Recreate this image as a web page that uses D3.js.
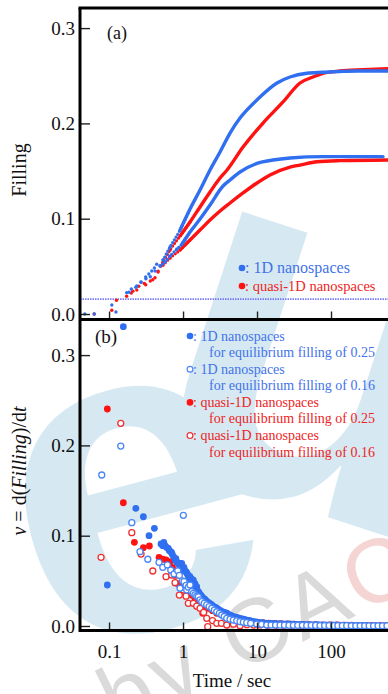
<!DOCTYPE html>
<html><head><meta charset="utf-8">
<script src="https://cdn.jsdelivr.net/npm/d3@7"></script>
<style>
html,body{margin:0;padding:0;background:#fff;}
svg{display:block;}
svg text.sf{font-family:"Liberation Serif","Times New Roman",Tinos,"DejaVu Serif",serif;}
svg text.ss{font-family:"Liberation Sans",Arial,"DejaVu Sans",sans-serif;}
</style></head><body>
<svg id="chart" width="388" height="694"></svg>
<script>
// ---------- DATA ----------
const xTickValues = [0.1, 1, 10, 100];
const xTickLabels = ["0.1", "1", "10", "100"];
const yTickValues = [0, 0.1, 0.2, 0.3];
const yTickLabels = ["0.0", "0.1", "0.2", "0.3"];
const thresholdFilling = 0.0157;

// panel (a): [time (s), filling]
const fill1D_025 = [[0.047,0],[0.109,0.0094],[0.173,0.0224],[0.20,0.0262],[0.237,0.0294],[0.27,0.0335],[0.313,0.0388],[0.345,0.0420],[0.378,0.0451],[0.41,0.0482],[0.441,0.0522],[0.537,0.0567],[0.667,0.0703],[0.911,0.0881],[1.243,0.1102],[1.697,0.1301],[2.317,0.1511],[3.163,0.170],[4.316,0.1899],[5.893,0.2057],[7.33,0.2141],[10.98,0.2277],[14.99,0.2371],[18.63,0.2424],[27.9,0.2487],[47.4,0.2526],[78,0.2536],[132.4,0.2545],[224.5,0.255],[589,0.255]];
const fill1D_016 = [[0.063,0],[0.124,0.0021],[0.186,0.0228],[0.23,0.0280],[0.271,0.0333],[0.315,0.0370],[0.361,0.0391],[0.42,0.0450],[0.489,0.0504],[0.571,0.0546],[0.667,0.0609],[0.830,0.0682],[0.969,0.0735],[1.243,0.086],[1.697,0.0997],[2.317,0.1144],[3.473,0.1343],[4.316,0.1406],[5.893,0.149],[10,0.1581],[16.45,0.1616],[27.9,0.1637],[78,0.1651],[504,0.1651]];
const fillQ1D_025 = [[0.063,0],[0.126,0.0144],[0.173,0.0186],[0.21,0.0240],[0.252,0.0291],[0.30,0.0320],[0.361,0.0346],[0.418,0.0381],[0.46,0.0440],[0.5,0.0504],[0.537,0.0546],[0.667,0.0672],[0.911,0.0818],[1.243,0.0965],[1.697,0.1123],[2.317,0.128],[3.163,0.1427],[3.933,0.1511],[6.47,0.1752],[12.05,0.2004],[22.46,0.2225],[38.1,0.2424],[57.1,0.2487],[78,0.2526],[132.4,0.255],[270.6,0.2563],[589,0.2574]];
const fillQ1D_016 = [[0.109,0.0039],[0.20,0.0220],[0.237,0.0252],[0.313,0.0307],[0.39,0.0360],[0.46,0.0450],[0.537,0.0514],[0.667,0.0588],[0.911,0.0672],[1.243,0.0777],[1.697,0.0881],[2.317,0.0986],[3.163,0.1081],[4.316,0.1165],[6.47,0.127],[10,0.1375],[14.99,0.1459],[27.9,0.1542],[38.1,0.1563],[64.7,0.1598],[132.4,0.1609],[589,0.1616]];

// panel (b): [time (s), v = d(Filling)/dt]
const rate1D_025 = [[0.0948,0.0454],[0.156,0.3315],[0.230,0.1303],[0.291,0.1210],[0.347,0.1000],[0.410,0.1082],[0.504,0.0908],[0.532,0.0889],[0.55,0.0925],[0.571,0.0889],[0.6,0.0870],[0.633,0.0860],[0.65,0.0835],[0.682,0.0823],[0.703,0.0812],[0.72,0.0790],[0.756,0.0760],[0.780,0.0731],[0.8,0.0745],[0.822,0.0705],[0.848,0.0701],[0.88,0.0680],[0.911,0.0694],[0.93,0.0640],[0.960,0.0694],[1.0,0.0620],[1.03,0.0650],[1.06,0.0610],[1.098,0.0601],[1.12,0.0590],[1.143,0.0573],[1.179,0.0560],[1.2,0.0530],[1.243,0.0546],[1.28,0.0500],[1.311,0.0520],[1.35,0.0470],[1.378,0.0509],[1.42,0.0440],[1.45,0.0470],[1.5,0.0410],[1.531,0.0435],[1.58,0.0390],[1.610,0.0362],[1.65,0.0370],[1.697,0.0345],[1.75,0.0340],[1.790,0.0324],[1.85,0.0310],[1.95,0.0300],[1.983,0.0288],[2.05,0.0280],[2.09,0.0270],[2.15,0.0265],[2.198,0.0251],[2.25,0.0255],[2.317,0.0240],[2.4,0.0240],[2.442,0.0233],[2.55,0.0220],[2.65,0.0210],[2.75,0.0205],[2.853,0.0196],[2.95,0.0190],[3.1,0.0175],[3.2,0.0170],[3.334,0.0158],[3.45,0.0155],[3.6,0.0150],[3.75,0.0145],[3.897,0.0141],[4.05,0.0130],[4.316,0.0120],[4.5,0.0115],[4.786,0.0103],[5.0,0.0100],[5.321,0.0095],[5.6,0.0090],[5.893,0.0085],[6.2,0.0080],[6.531,0.0075],[6.9,0.0070],[7.26,0.0066],[7.6,0.0062],[8.0,0.0058],[8.4,0.0054],[8.92,0.0048],[9.4,0.0045],[9.91,0.0042],[10.4,0.0040],[10.98,0.0036],[11.6,0.0035],[12.2,0.0033],[13.5,0.0031],[15,0.0030],[16.5,0.0030],[18.3,0.0027],[20.3,0.0026],[22.5,0.0024],[25,0.0023],[27.9,0.0022],[31,0.0021],[34.5,0.0019],[38.5,0.0018],[43,0.0017],[48,0.0016],[53.5,0.0015],[60,0.0015],[67,0.0014],[75,0.0013],[84,0.0012],[94,0.0012],[105,0.0011],[118,0.0011],[132,0.0010],[148,0.0010],[166,0.0009],[186,0.0008],[208,0.0008],[233,0.0007],[261,0.0007],[292,0.0006],[327,0.0006],[366,0.0005],[410,0.0005],[460,0.0004],[515,0.0004],[577,0.0003]];
const rate1D_016 = [[0.0797,0.1672],[0.144,0.1993],[0.203,0.1144],[0.262,0.0823],[0.334,0.0739],[0.474,0.0705],[0.532,0.0650],[0.614,0.0676],[0.682,0.0620],[0.756,0.0576],[0.848,0.0612],[0.891,0.0560],[0.911,0.0418],[0.98,0.0500],[1.01,0.1226],[1.032,0.0491],[1.098,0.0450],[1.122,0.0399],[1.179,0.0430],[1.243,0.0454],[1.311,0.0380],[1.378,0.0362],[1.45,0.0345],[1.531,0.0330],[1.610,0.0324],[1.697,0.0290],[1.790,0.0269],[1.93,0.0250],[2.090,0.0233],[2.25,0.0215],[2.442,0.0196],[2.65,0.0175],[2.853,0.0158],[3.1,0.0140],[3.334,0.0122],[3.6,0.0105],[3.897,0.0085],[4.316,0.0075],[4.786,0.0066],[5.321,0.0057],[5.893,0.0048],[6.531,0.0042],[7.26,0.0037],[8.2,0.0030],[9.91,0.0022],[11.5,0.0018],[13.52,0.0011],[15.5,0.0010],[17.8,0.0010],[20.5,0.0009],[23.5,0.0009],[27,0.0008],[31,0.0008],[35.5,0.0007],[41,0.0007],[47,0.0006],[54,0.0006],[62,0.0006],[71,0.0005],[82,0.0005],[94,0.0005],[108,0.0004],[124,0.0004],[142,0.0004],[163,0.0004],[188,0.0003],[216,0.0003],[248,0.0003],[285,0.0003],[327,0.0002],[376,0.0002],[432,0.0002],[496,0.0002],[570,0.0002]];
const rateQ1D_025 = [[0.0948,0.2403],[0.156,0.1365],[0.220,0.0927],[0.291,0.0867],[0.351,0.0886],[0.474,0.0761],[0.532,0.0740],[0.589,0.0731],[0.667,0.0712],[0.72,0.0650],[0.78,0.0560],[0.822,0.0473],[0.911,0.0435],[1.01,0.0399],[1.143,0.0370],[1.311,0.0343],[1.45,0.0310],[1.531,0.0288],[1.697,0.0240],[1.846,0.0141],[2.0,0.0210],[2.198,0.0196],[2.5,0.0170],[2.853,0.0141],[3.3,0.0125],[3.897,0.0103],[4.5,0.0090],[5.321,0.0074],[6.2,0.0062],[7.26,0.0055],[8.5,0.0048],[10,0.0042],[12,0.0036],[14.5,0.0032],[17.5,0.0028],[21,0.0025],[26,0.0022],[32,0.0020],[40,0.0018],[50,0.0016],[62,0.0014],[78,0.0013],[98,0.0012],[122,0.0011],[152,0.0010],[190,0.0009],[238,0.0008],[297,0.0008],[371,0.0007],[464,0.0006],[580,0.0006]];
const rateQ1D_016 = [[0.078,0.0761],[0.144,0.2245],[0.203,0.1033],[0.271,0.0797],[0.390,0.0609],[0.589,0.0546],[0.703,0.0565],[0.78,0.0480],[0.891,0.0343],[1.01,0.0399],[1.098,0.0330],[1.179,0.0251],[1.378,0.0251],[1.53,0.0220],[1.697,0.0196],[1.9,0.0150],[2.090,0.0085],[2.157,-0.0008],[2.5,0.0060],[2.853,0.0030],[3.3,0.0030],[3.897,0.0011],[4.8,0.0020],[5.893,0.0003],[7.3,0.0015],[9,0.0010],[11,0.0012],[14,0.0008],[18,0.0007],[23,0.0006],[30,0.0005],[40,0.0005],[55,0.0004],[71,-0.0025],[95,0.0003],[130,0.0003],[180,0.0002],[250,0.0002],[350,0.0002],[480,0.0001]];

const legendA = [": 1D nanospaces", ": quasi-1D nanospaces"];
const legendB = [[": 1D nanospaces", "for equilibrium filling of 0.25"],
                 [": 1D nanospaces", "for equilibrium filling of 0.16"],
                 [": quasi-1D nanospaces", "for equilibrium filling of 0.25"],
                 [": quasi-1D nanospaces", "for equilibrium filling of 0.16"]];

// ---------- LAYOUT ----------
const left = 80, right = 388;
const topA = 8, midY = 319.5, botB = 630.5;
const BLUE = "#2f6ff0", BLUE_OPEN = "#4a86f6", RED = "#ff1212", RED_OPEN = "#f03030";
const BLUE_TXT = "#4373ea", RED_TXT = "#ee2424";

const svg = d3.select("#chart");

// watermark (background)
const wm = svg.append("g").attr("pointer-events", "none");
wm.append("text").attr("class", "ss").attr("transform", "translate(135,508) rotate(-15)")
  .attr("text-anchor", "middle").attr("dy", "0.27em")
  .style("font-weight", "bold").style("font-size", "450px").attr("fill", "#d6e9f2").text("e");
wm.append("text").attr("class", "ss").attr("transform", "translate(318,372) rotate(18)")
  .attr("text-anchor", "middle").attr("dy", "0.27em")
  .style("font-weight", "bold").style("font-size", "500px").attr("fill", "#d6e9f2").text("u");
const wt = wm.append("text").attr("class", "ss").attr("transform", "translate(118,732) rotate(-26)")
  .style("font-size", "90px").style("letter-spacing", "5px").attr("fill", "#dadada");
wt.append("tspan").text("by ");
wt.append("tspan").text("CA");
wt.append("tspan").attr("fill", "#f5d4d4").text("C");
wt.append("tspan").text("TUS");

// scales
const x = d3.scaleLog().domain([0.0405, 589]).range([left, right]);
const yA = d3.scaleLinear().domain([0, 0.3]).range([314, 28.1]);
const yB = d3.scaleLinear().domain([0, 0.3]).range([626, 355.1]);

const defs = svg.append("defs");
defs.append("clipPath").attr("id", "clipA").append("rect")
  .attr("x", left).attr("y", topA).attr("width", right - left).attr("height", midY - topA);
defs.append("clipPath").attr("id", "clipB").append("rect")
  .attr("x", left).attr("y", midY).attr("width", right - left).attr("height", botB - midY);

// ----- panel (a) -----
const gA = svg.append("g").attr("clip-path", "url(#clipA)");
gA.append("line").attr("x1", left).attr("x2", right)
  .attr("y1", yA(thresholdFilling)).attr("y2", yA(thresholdFilling))
  .attr("stroke", "#7b7bf8").attr("stroke-width", 1.8).attr("stroke-dasharray", "1.5,1");

const lineA = d3.line().x(d => x(d[0])).y(d => yA(d[1])).curve(d3.curveMonotoneX);
const seriesA = [
  {data: fillQ1D_016, c: RED}, {data: fillQ1D_025, c: RED},
  {data: fill1D_016, c: BLUE}, {data: fill1D_025, c: BLUE}
];
seriesA.forEach(s => {
  gA.append("path").datum(s.data.filter(d => d[0] >= 0.48 && d[0] <= 1.3))
    .attr("d", lineA).attr("fill", "none").attr("stroke", s.c)
    .attr("stroke-width", 3.2).attr("stroke-linecap", "round").attr("stroke-dasharray", "0,3.3");
  gA.append("path").datum(s.data.filter(d => d[0] >= 0.9))
    .attr("d", lineA).attr("fill", "none").attr("stroke", s.c)
    .attr("stroke-width", 3.4).attr("stroke-linecap", "round");
  gA.selectAll(null).data(s.data.filter(d => d[0] < 0.9)).enter().append("circle")
    .attr("cx", d => x(d[0])).attr("cy", d => yA(d[1])).attr("r", 1.7).attr("fill", s.c);
});

// ----- panel (b) -----
const gB = svg.append("g").attr("clip-path", "url(#clipB)");
const seriesB = [
  {data: rateQ1D_025, filled: true, c: RED},
  {data: rate1D_025, filled: true, c: BLUE},
  {data: rateQ1D_016, filled: false, c: RED_OPEN},
  {data: rate1D_016, filled: false, c: BLUE_OPEN}
];
seriesB.forEach(s => {
  gB.selectAll(null).data(s.data).enter().append("circle")
    .attr("cx", d => x(d[0])).attr("cy", d => yB(d[1]))
    .attr("r", s.filled ? 3.4 : 3.0)
    .attr("fill", s.filled ? s.c : "#fff")
    .attr("stroke", s.filled ? "none" : s.c).attr("stroke-width", 1.3);
});

// ----- axes -----
function yAxis(scale) {
  return d3.axisLeft(scale).tickValues(yTickValues)
    .tickFormat((d, i) => yTickLabels[i]).tickSize(-10).tickPadding(5);
}
function styleAxis(g) {
  g.attr("font-family", null).attr("font-size", null);
  g.select(".domain").remove();
  g.selectAll(".tick line").attr("stroke", "#222").attr("stroke-width", 1.4);
  g.selectAll("text").attr("class", "sf").style("font-size", "19px").attr("fill", "#111");
}
svg.append("g").attr("transform", `translate(${left},0)`).call(yAxis(yA)).call(styleAxis);
svg.append("g").attr("transform", `translate(${left},0)`).call(yAxis(yB)).call(styleAxis);

function xAxis() {
  return d3.axisBottom(x).tickValues(xTickValues)
    .tickFormat((d, i) => xTickLabels[i]).tickSize(-8).tickPadding(14);
}
svg.append("g").attr("transform", `translate(0,${midY})`).call(xAxis()).call(styleAxis)
  .call(g => g.selectAll("text").remove());
svg.append("g").attr("transform", `translate(0,${botB})`).call(xAxis()).call(styleAxis);

// frame lines
const frame = svg.append("g").attr("stroke", "#000").attr("stroke-width", 3);
frame.append("line").attr("x1", left - 1.5).attr("x2", right).attr("y1", topA).attr("y2", topA);
frame.append("line").attr("x1", left).attr("x2", left).attr("y1", topA).attr("y2", botB + 1.5);
frame.append("line").attr("x1", left).attr("x2", right).attr("y1", midY).attr("y2", midY);
frame.append("line").attr("x1", left).attr("x2", right).attr("y1", botB).attr("y2", botB);

// panel labels
svg.append("text").attr("class", "sf").attr("x", 107).attr("y", 39)
  .style("font-size", "18px").attr("fill", "#111").text("(a)");
svg.append("text").attr("class", "sf").attr("x", 95).attr("y", 343)
  .style("font-size", "19px").attr("fill", "#111").text("(b)");

// axis titles
svg.append("text").attr("class", "sf").attr("transform", "translate(26,170) rotate(-90)")
  .attr("text-anchor", "middle").style("font-size", "20px").attr("fill", "#111").text("Filling");
const vt = svg.append("text").attr("class", "sf").attr("transform", "translate(26,471) rotate(-90)")
  .attr("text-anchor", "middle").style("font-size", "20px").attr("fill", "#111");
vt.append("tspan").style("font-style", "italic").text("v");
vt.append("tspan").text(" = d(");
vt.append("tspan").style("font-style", "italic").text("Filling");
vt.append("tspan").text(")/d");
vt.append("tspan").style("font-style", "italic").text("t");
svg.append("text").attr("class", "sf").attr("x", 232).attr("y", 687).attr("text-anchor", "middle")
  .style("font-size", "19px").attr("fill", "#111").text("Time / sec");

// legend (a)
const legA = svg.append("g");
[[BLUE, BLUE_TXT, 268, 16], [RED, RED_TXT, 286, 14.5]].forEach((r, i) => {
  legA.append("circle").attr("cx", 242).attr("cy", r[2]).attr("r", 3.3).attr("fill", r[0]);
  legA.append("text").attr("class", "sf").attr("x", 245).attr("y", r[2] + 5)
    .style("font-size", r[3] + "px").attr("fill", r[1]).text(legendA[i]);
});

// legend (b)
const legB = svg.append("g");
const legStyles = [[BLUE, true, BLUE_TXT], [BLUE_OPEN, false, BLUE_TXT], [RED, true, RED_TXT], [RED_OPEN, false, RED_TXT]];
legendB.forEach((lines, i) => {
  const cy = 336 + i * 33.2;
  const st = legStyles[i];
  legB.append("circle").attr("cx", 190).attr("cy", cy).attr("r", st[1] ? 3.3 : 2.9)
    .attr("fill", st[1] ? st[0] : "#fff").attr("stroke", st[1] ? "none" : st[0]).attr("stroke-width", 1.2);
  legB.append("text").attr("class", "sf").attr("x", 193).attr("y", cy + 4.5)
    .style("font-size", "14px").attr("fill", st[2]).text(lines[0]);
  legB.append("text").attr("class", "sf").attr("x", 209).attr("y", cy + 21)
    .style("font-size", "14px").attr("fill", st[2]).text(lines[1]);
});
</script>
</body></html>
